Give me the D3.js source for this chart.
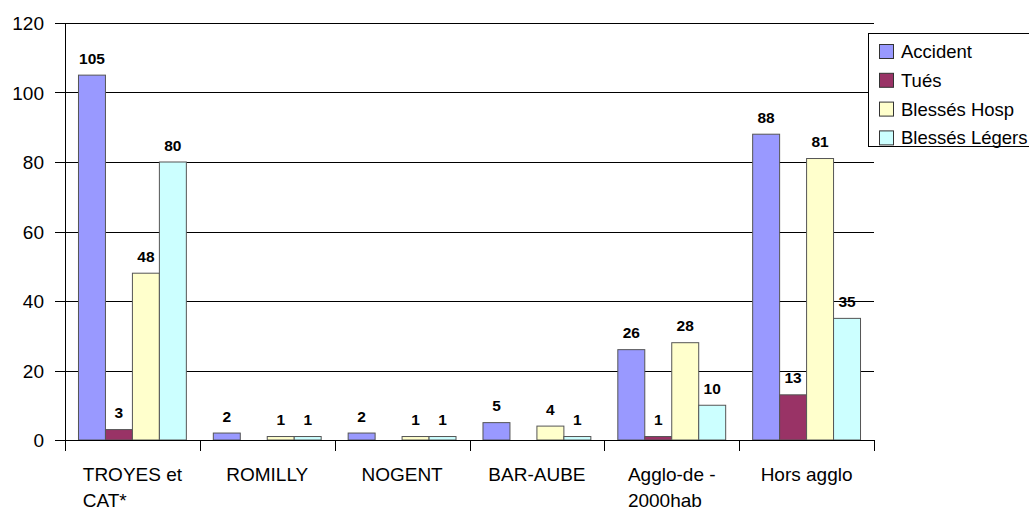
<!DOCTYPE html>
<html>
<head>
<meta charset="utf-8">
<script src="https://cdn.jsdelivr.net/npm/d3@7"></script>
<style>
  body { margin: 0; background: #fff; }
  svg { font-family: "Liberation Sans", Arial, sans-serif; }
  .grid line { stroke: #000; stroke-width: 1; }
  .value { font-weight: bold; font-size: 15.5px; }
</style>
</head>
<body>
<svg width="1029" height="510"></svg>
<script>
let categories = ['TROYES et|CAT*', 'ROMILLY', 'NOGENT', 'BAR-AUBE', 'Agglo-de -|2000hab', 'Hors agglo']
let seriesNames = ['Accident', 'Tués', 'Blessés Hosp', 'Blessés Légers']
let accident = [105, 2, 2, 5, 26, 88]
let tues = [3, 0, 0, 0, 1, 13]
let blessesHosp = [48, 1, 1, 4, 28, 81]
let blessesLegers = [80, 1, 1, 1, 10, 35]
let yTicks = [0, 20, 40, 60, 80, 100, 120]

let colors = ['#9999ff', '#993366', '#ffffcc', '#ccffff']
let series = [accident, tues, blessesHosp, blessesLegers]

let svg = d3.select('svg')
let plot = {left: 65, right: 874, top: 23, bottom: 440}

let x = d3.scaleBand()
  .domain(d3.range(categories.length))
  .range([plot.left, plot.right])

let inner = d3.scaleBand()
  .domain(d3.range(series.length))
  .range([0, x.bandwidth()])
  .paddingOuter(0.5)

let y = d3.scaleLinear()
  .domain([0, 120])
  .range([plot.bottom, plot.top])

// horizontal gridlines plus left ticks
svg.append('g')
  .classed('grid', true)
  .selectAll('line')
  .data(yTicks)
  .enter()
  .append('line')
  .attr('x1', plot.left - 10)
  .attr('x2', plot.right)
  .attr('y1', d => Math.round(y(d)) + 0.5)
  .attr('y2', d => Math.round(y(d)) + 0.5)

// y tick labels
svg.append('g')
  .selectAll('text')
  .data(yTicks)
  .enter()
  .append('text')
  .attr('x', 44)
  .attr('y', d => y(d) + 7)
  .attr('text-anchor', 'end')
  .style('font-size', '19px')
  .text(d => d)

// y axis line
svg.append('line')
  .attr('x1', plot.left + 0.5).attr('x2', plot.left + 0.5)
  .attr('y1', plot.top).attr('y2', plot.bottom)
  .attr('stroke', '#000')

// bars
let groups = svg.append('g')
  .selectAll('g')
  .data(categories.map((c, i) => i))
  .enter()
  .append('g')
  .attr('transform', i => `translate(${x(i)},0)`)

groups.selectAll('rect')
  .data(i => series.map((s, k) => ({k: k, v: s[i]})))
  .enter()
  .append('rect')
  .attr('x', d => inner(d.k))
  .attr('width', inner.bandwidth())
  .attr('y', d => y(d.v))
  .attr('height', d => y(0) - y(d.v))
  .attr('fill', d => colors[d.k])
  .attr('stroke', '#555')
  .attr('stroke-width', 1)

groups.selectAll('text.value')
  .data(i => series.map((s, k) => ({k: k, v: s[i]})).filter(d => d.v > 0))
  .enter()
  .append('text')
  .classed('value', true)
  .attr('x', d => inner(d.k) + inner.bandwidth() / 2)
  .attr('y', d => y(d.v) - 11.5)
  .attr('text-anchor', 'middle')
  .text(d => d.v)

// x axis line and category ticks
svg.append('line')
  .attr('x1', plot.left).attr('x2', plot.right)
  .attr('y1', plot.bottom + 0.5).attr('y2', plot.bottom + 0.5)
  .attr('stroke', '#000')

svg.append('g')
  .selectAll('line')
  .data(d3.range(categories.length + 1))
  .enter()
  .append('line')
  .attr('x1', i => Math.round(plot.left + i * x.step()) + 0.5)
  .attr('x2', i => Math.round(plot.left + i * x.step()) + 0.5)
  .attr('y1', plot.bottom)
  .attr('y2', plot.bottom + 11)
  .attr('stroke', '#000')

// category labels: block centred, lines left aligned
let labels = svg.append('g')
  .selectAll('text')
  .data(categories)
  .enter()
  .append('text')
  .style('font-size', '19px')

labels.each(function(d, i) {
  let t = d3.select(this)
  let lines = d.split('|')
  lines.forEach((l, j) => {
    t.append('tspan')
      .attr('y', 481 + j * 25.5)
      .text(l)
  })
  let w = d3.max(t.selectAll('tspan').nodes(), n => n.getComputedTextLength())
  t.selectAll('tspan').attr('x', x(i) + x.bandwidth() / 2 - w / 2)
})

// legend
let legend = svg.append('g')
legend.append('rect')
  .attr('x', 868.5).attr('y', 33.5)
  .attr('width', 170).attr('height', 113)
  .attr('fill', '#fff')
  .attr('stroke', '#000')

let items = legend.selectAll('g')
  .data(seriesNames)
  .enter()
  .append('g')
  .attr('transform', (d, i) => `translate(0,${51 + i * 28.8})`)

items.append('rect')
  .attr('x', 879.5).attr('y', -6.5)
  .attr('width', 14).attr('height', 14)
  .attr('fill', (d, i) => colors[i])
  .attr('stroke', '#333')

items.append('text')
  .attr('x', 901)
  .attr('y', 7)
  .style('font-size', '18.5px')
  .text(d => d)
</script>
</body>
</html>
